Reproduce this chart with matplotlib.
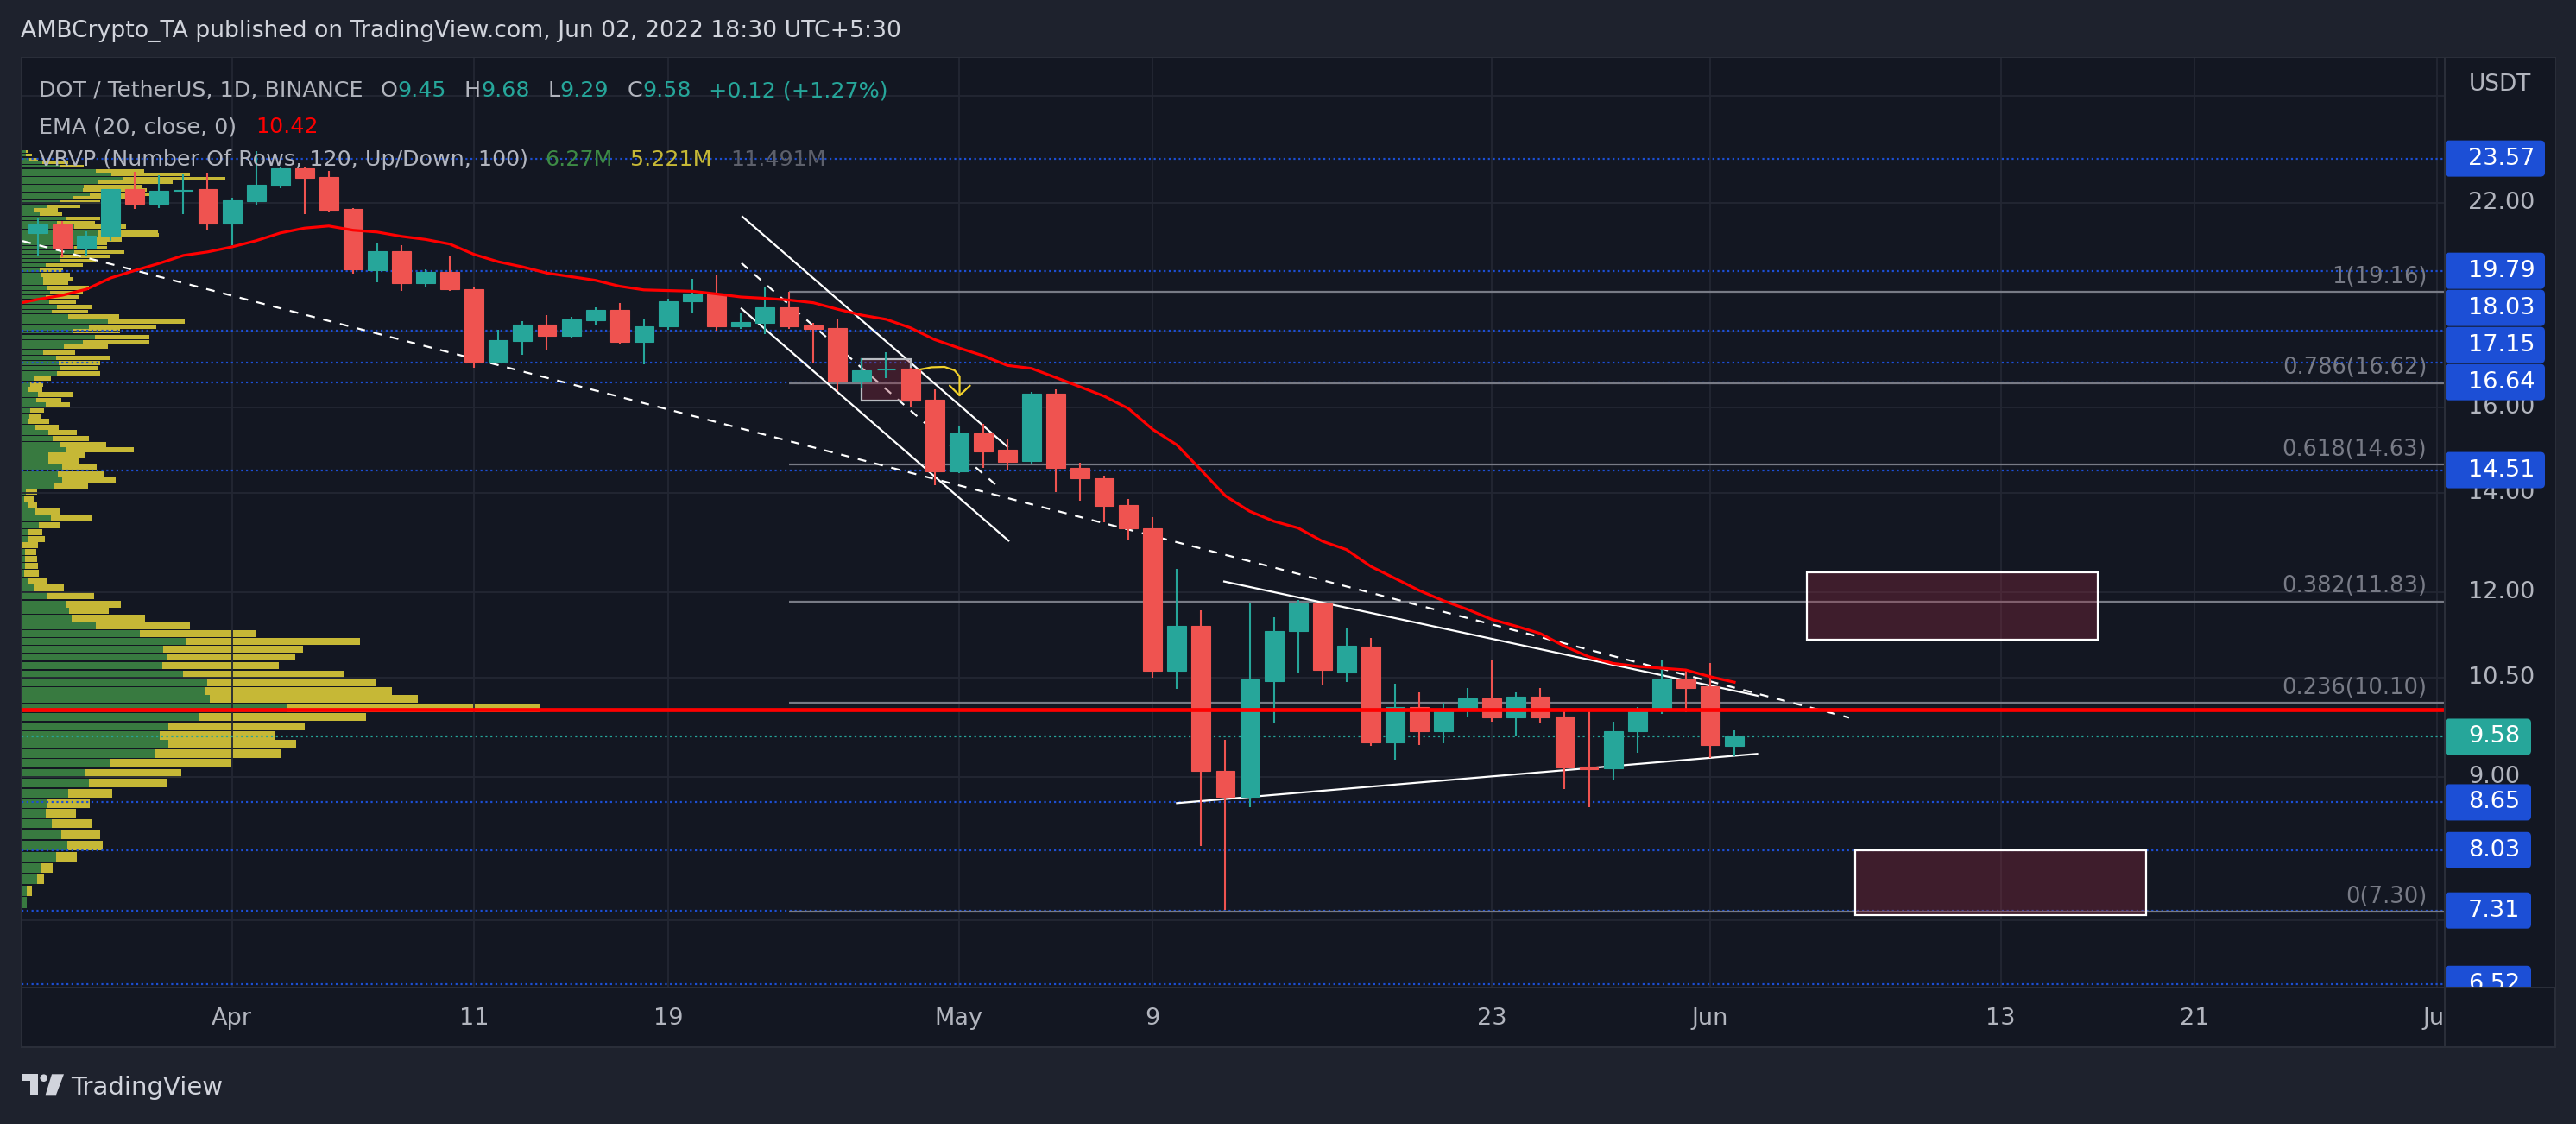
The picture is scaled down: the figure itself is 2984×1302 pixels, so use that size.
import numpy as np
import pandas as pd
import matplotlib
matplotlib.use("Agg")
import matplotlib.pyplot as plt
from matplotlib.patches import Rectangle, FancyBboxPatch, Polygon, Circle
from matplotlib.transforms import blended_transform_factory, Bbox, TransformedBbox, IdentityTransform

plt.rcParams['font.family'] = ['DejaVu Sans']

W, H = 2984, 1302
BG_OUT = "#1e222d"
BG = "#131722"
GRID = "#232733"
BORDER = "#2a2e39"
TXT = "#b2b5be"
UP = "#26a69a"
DOWN = "#ef5350"
BLUE = "#1c4fd6"
FIB = "#787b86"
VP_UP = "#387a40"
VP_DN = "#c6b836"

# DOT / USDT daily candles (Binance), first candle 24 Mar 2022
start = "2022-03-24"
opens = [20.99, 21.27, 20.52, 20.91, 22.47, 21.98, 22.41, 22.47, 21.31, 22.07,
         22.61, 23.22, 22.90, 21.80, 19.82, 20.40, 19.42, 19.76, 19.24, 17.18,
         17.75, 18.21, 17.89, 18.33, 18.62, 17.72, 18.14, 18.88, 19.11, 18.16,
         18.26, 18.70, 18.18, 18.11, 16.66, 16.96, 17.00, 16.19, 14.49, 15.37,
         14.98, 14.72, 16.35, 14.57, 14.33, 13.75, 13.26, 10.62, 11.39, 9.09,
         8.72, 10.45, 11.30, 11.79, 10.59, 11.02, 9.49, 10.04, 9.67, 10.00,
         10.17, 9.88, 10.20, 9.89, 9.14, 9.12, 9.67, 9.99, 10.48, 10.37, 9.45]
highs = [21.48, 21.39, 21.04, 22.47, 23.10, 22.96, 22.99, 23.06, 22.17, 23.85,
         23.27, 23.25, 23.11, 21.83, 20.65, 20.60, 19.83, 20.23, 19.28, 18.05,
         18.30, 18.47, 18.43, 18.70, 18.83, 18.37, 18.95, 19.55, 19.68, 18.52,
         19.28, 19.16, 18.26, 18.35, 17.28, 17.43, 17.02, 16.46, 15.54, 15.60,
         15.22, 16.38, 16.46, 14.68, 14.38, 13.87, 13.48, 12.44, 11.67, 9.54,
         11.79, 11.54, 11.86, 11.80, 11.34, 11.17, 10.41, 10.27, 10.10, 10.34,
         10.81, 10.27, 10.34, 10.00, 10.00, 9.81, 10.04, 10.80, 10.65, 10.75, 9.68]
lows = [20.25, 20.20, 20.25, 20.73, 21.80, 21.83, 21.63, 21.08, 20.60, 21.95,
        22.52, 21.63, 21.68, 19.71, 19.45, 19.17, 19.29, 19.17, 17.01, 17.15,
        17.37, 17.48, 17.81, 18.18, 17.65, 17.11, 18.05, 18.55, 18.04, 18.09,
        17.94, 18.09, 17.13, 16.41, 16.48, 16.75, 16.00, 14.18, 14.45, 14.57,
        14.53, 14.66, 14.03, 13.83, 13.37, 13.03, 10.51, 10.32, 8.08, 7.32,
        8.58, 9.78, 10.59, 10.38, 10.44, 9.44, 9.24, 9.46, 9.48, 9.89,
        9.81, 9.58, 9.79, 8.83, 8.58, 8.96, 9.35, 9.93, 9.96, 9.27, 9.29]
closes = [21.27, 20.52, 20.90, 22.47, 21.98, 22.42, 22.44, 21.31, 22.09, 22.63,
          23.21, 22.88, 21.77, 19.84, 20.40, 19.42, 19.76, 19.22, 17.18, 17.77,
          18.21, 17.89, 18.35, 18.62, 17.72, 18.16, 18.88, 19.11, 18.16, 18.28,
          18.70, 18.16, 18.09, 16.66, 16.95, 16.98, 16.18, 14.49, 15.37, 14.94,
          14.70, 16.35, 14.57, 14.32, 13.73, 13.25, 10.61, 11.39, 9.09, 8.72,
          10.47, 11.30, 11.79, 10.63, 11.04, 9.49, 10.04, 9.67, 10.00, 10.17,
          9.88, 10.20, 9.88, 9.13, 9.11, 9.67, 9.99, 10.48, 10.34, 9.46, 9.58]

# EMA(20, close) as drawn, first value 23 Mar 2022
ema_start = "2022-03-23"
ema20 = [18.78, 18.93, 19.05, 19.23, 19.57, 19.80, 20.02, 20.27, 20.38, 20.54,
         20.74, 20.99, 21.15, 21.22, 21.08, 21.02, 20.88, 20.78, 20.63, 20.30,
         20.07, 19.91, 19.72, 19.61, 19.50, 19.32, 19.21, 19.19, 19.17, 19.09,
         19.00, 18.96, 18.91, 18.83, 18.64, 18.47, 18.35, 18.11, 17.78, 17.55,
         17.34, 17.08, 17.00, 16.76, 16.52, 16.28, 15.97, 15.46, 15.09, 14.51,
         13.94, 13.61, 13.40, 13.26, 12.99, 12.82, 12.49, 12.26, 12.03, 11.84,
         11.68, 11.50, 11.38, 11.25, 11.03, 10.85, 10.74, 10.69, 10.66, 10.63,
         10.52, 10.43]

# visible range volume profile rows: price, up volume, down volume (relative)
vp_price = [23.83, 23.70, 23.54, 23.43, 23.29, 23.13, 22.99, 22.85, 22.71, 22.57,
            22.44, 22.30, 22.17, 22.03, 21.89, 21.76, 21.61, 21.47, 21.33, 21.20,
            21.05, 20.92, 20.78, 20.65, 20.51, 20.37, 20.24, 20.10, 19.97, 19.81,
            19.67, 19.54, 19.41, 19.27, 19.13, 19.00, 18.86, 18.71, 18.57, 18.43,
            18.29, 18.15, 18.01, 17.86, 17.71, 17.58, 17.42, 17.28, 17.14, 17.00,
            16.86, 16.73, 16.59, 16.46, 16.32, 16.18, 16.06, 15.92, 15.78, 15.65,
            15.51, 15.38, 15.24, 15.10, 14.98, 14.85, 14.72, 14.58, 14.43, 14.29,
            14.15, 14.02, 13.88, 13.74, 13.60, 13.46, 13.32, 13.18, 13.04, 12.91,
            12.77, 12.63, 12.50, 12.36, 12.22, 12.08, 11.93, 11.78, 11.66, 11.52,
            11.38, 11.25, 11.11, 10.98, 10.85, 10.70, 10.56, 10.43, 10.29, 10.16,
            10.02, 9.88, 9.74, 9.60, 9.47, 9.33, 9.20, 9.05, 8.91, 8.77,
            8.64, 8.50, 8.37, 8.23, 8.09, 7.95, 7.81, 7.68, 7.54, 7.40]
vp_up = [5.5, 5.5, 9.5, 24.5, 44.5, 86.5, 104.5, 117.5, 88.5, 72.5,
         71.5, 79.5, 59.5, 44.5, 30.5, 14.5, 21.5, 52.5, 41.5, 61.5,
         89.5, 89.5, 86.5, 64.5, 61.5, 61.5, 45.5, 45.5, 28.5, 21.5,
         23.5, 25.5, 25.5, 30.5, 33.5, 28.5, 32.5, 41.5, 35.5, 54.5,
         100.5, 78.5, 60.5, 85.5, 71.5, 49.5, 25.5, 40.5, 43.5, 45.5,
         41.5, 14.5, 10.5, 7.5, 19.5, 17.5, 28.5, 10.5, 9.5, 8.5,
         15.5, 31.5, 36.5, 45.5, 51.5, 31.5, 31.5, 47.5, 42.5, 47.5,
         37.5, 5.5, 3.5, 7.5, 16.5, 34.5, 20.5, 7.5, 7.5, 1.5,
         4.5, 4.5, 4.5, 3.5, 7.5, 14.5, 29.5, 51.5, 55.5, 58.5,
         86.5, 137.5, 191.5, 164.5, 169.5, 163.5, 187.5, 215.5, 212.5, 218.5,
         308.5, 205.5, 170.5, 160.5, 170.5, 155.5, 102.5, 73.5, 78.5, 54.5,
         30.5, 28.5, 35.5, 46.5, 53.5, 40.5, 22.5, 18.5, 6.5, 6.5]
vp_down = [3, 7, 10, 30, 28, 56, 91, 119, 87, 67,
           74, 89, 82, 47, 38, 28, 26, 39, 44, 60,
           69, 70, 30, 35, 38, 58, 58, 41, 43, 27,
           33, 35, 29, 48, 38, 39, 31, 40, 42, 59,
           89, 78, 54, 63, 77, 51, 37, 62, 48, 44,
           50, 20, 15, 17, 40, 29, 28, 16, 13, 24,
           28, 33, 42, 53, 79, 42, 36, 40, 53, 62,
           40, 13, 11, 11, 29, 48, 24, 17, 20, 18,
           13, 14, 15, 17, 22, 35, 55, 64, 46, 85,
           109, 135, 201, 162, 148, 135, 187, 195, 217, 241,
           292, 194, 158, 134, 148, 146, 141, 112, 91, 51,
           49, 35, 46, 45, 41, 24, 14, 8, 6, 0]

# fibonacci retracement drawn from 24 Apr
fib_start = "2022-04-24"
fib_levels = ["1", "0.786", "0.618", "0.382", "0.236", "0"]
fib_prices = [19.16, 16.62, 14.63, 11.83, 10.10, 7.30]

ray_levels = [23.57, 19.79, 18.03, 17.15, 16.64, 14.51, 8.65, 8.03, 7.31, 6.52]
last_price = 9.58
support = 10.0

# drawings: (days after start, price) endpoints
trend_dashed = ([-0.64, 74.74], [20.73, 9.87])
channel_top = ([29.07, 40.0], [21.53, 15.05])
channel_bot = ([29.03, 40.05], [18.66, 13.00])
channel_mid = ([29.03, 39.7], [20.03, 14.10])
tri_top = ([48.95, 70.99], [12.20, 10.21])
tri_bot = ([47.0, 70.98], [8.64, 9.33])
arrow_x = [36.39, 36.87, 37.41, 37.82, 38.03, 38.03]
arrow_y = [16.97, 17.03, 17.04, 16.95, 16.79, 16.30]
head_x = [37.62, 38.03, 38.46]
head_y = [16.55, 16.30, 16.55]
small_box = ([34, 36], [16.18, 17.24])
zones = [([73, 85], [11.14, 12.37]), ([75, 87], [7.26, 8.03])]

price_grid = [26, 22, 18, 16, 14, 12, 10.5, 9, 7.2]
price_ticks = [22, 16, 14, 12, 10.5, 9]
date_ticks = ["2022-04-01", "2022-04-11", "2022-04-19", "2022-05-01", "2022-05-09",
              "2022-05-23", "2022-06-01", "2022-06-13", "2022-06-21", "2022-07-01"]
date_labels = ["Apr", "11", "19", "May", "9", "23", "Jun", "13", "21", "Jul"]

t0 = pd.Timestamp(start)
def day(d):
    return (pd.Timestamp(d) - t0).days

XMIN, XMAX = -0.677, 99.32
YMIN, YMAX = 6.483, 27.57
PL, PT, PR, PB = 25, 67, 2832, 1144
AXR, DB = 2960, 1213

def rect_px(x0, y0, x1, y1):
    return [x0 / W, 1 - y1 / H, (x1 - x0) / W, (y1 - y0) / H]

fig = plt.figure(figsize=(W / 100, H / 100), dpi=100, facecolor=BG_OUT)
fig.add_artist(Rectangle((PL / W, 1 - DB / H), (AXR - PL) / W, (DB - PT) / H,
                         transform=fig.transFigure, facecolor=BG, edgecolor=BORDER,
                         lw=1.5, zorder=-5))

ax_bg = fig.add_axes(rect_px(PL, PT, PR, PB), zorder=0)
ax = fig.add_axes(rect_px(PL, PT, PR, PB), zorder=1)
ax_r = fig.add_axes(rect_px(PR, PT, AXR, PB), zorder=1)
ax.patch.set_visible(False)
for a in (ax_bg, ax, ax_r):
    a.set_yscale('log')
    a.set_ylim(YMIN, YMAX)
    a.set_xticks([])
    a.set_yticks([])
    a.set_yticks([], minor=True)
    for s in a.spines.values():
        s.set_visible(False)
ax_bg.set_facecolor(BG)
ax_r.set_facecolor(BG)
ax.set_xlim(XMIN, XMAX)
ax_r.set_xlim(0, 1)

# separators
fig.add_artist(plt.Line2D([PR / W, PR / W], [1 - DB / H, 1 - PT / H], color=BORDER, lw=1.5))
fig.add_artist(plt.Line2D([PL / W, AXR / W], [1 - PB / H, 1 - PB / H], color=BORDER, lw=1.5))

# grid
for p in price_grid:
    ax_bg.axhline(p, color=GRID, lw=1.3)
xt = [day(d) for d in date_ticks]
ax_bg.vlines(xt, 0, 1, transform=blended_transform_factory(ax.transData, ax_bg.transAxes),
             color=GRID, lw=1.3)

# volume profile
vp_price = np.array(vp_price)
vp_up = np.array(vp_up)
vp_down = np.array(vp_down)
row_h = (vp_price.max() - vp_price.min()) / (len(vp_price) - 1) * 0.88
ax_bg.barh(vp_price, vp_up, height=row_h, color=VP_UP, lw=0)
ax_bg.barh(vp_price, vp_down, left=vp_up, height=row_h, color=VP_DN, lw=0)
ax_bg.set_xlim(0, (vp_up + vp_down).max() / 0.2138)
ax_bg.set_xticks([])

# candles
dates = pd.date_range(start, periods=len(opens), freq='D')
xs = np.array((dates - t0).days)
o, h, l, c = map(np.array, (opens, highs, lows, closes))
col = np.where(c >= o, UP, DOWN)
ax.vlines(xs, l, h, colors=col, lw=1.5, zorder=5)
ax.bar(xs, np.abs(c - o), bottom=np.minimum(o, c), width=0.78, color=col,
       edgecolor=col, lw=0.8, zorder=6)

ema_x = np.array((pd.date_range(ema_start, periods=len(ema20), freq='D') - t0).days)
ax.plot(ema_x, ema20, color='#ff0000', lw=2.3, zorder=7)

# horizontal levels
for p in ray_levels:
    ax.axhline(p, color=BLUE, lw=1.6, ls=(0, (1, 1.6)), zorder=3)
ax.axhline(last_price, color=UP, lw=1.6, ls=(0, (1, 1.6)), zorder=3)
ax.axhline(support, color='#ff0000', lw=3.4, zorder=8)

fx0 = day(fib_start)
ax.hlines(fib_prices, fx0, XMAX, color=FIB, lw=1.6, zorder=3)
for lv, p in zip(fib_levels, fib_prices):
    ax.annotate(f"{lv}({p:.2f})", (98.58, p), xytext=(0, 3), textcoords='offset points',
                ha='right', va='bottom', color=FIB, fontsize=18.5, zorder=9)

# trend lines
ax.plot(*trend_dashed, color='white', lw=1.6, ls=(0, (4.5, 4.5)), zorder=4)
ax.plot(*channel_mid, color='white', lw=1.6, ls=(0, (4.5, 4.5)), zorder=4)
for tl in (channel_top, channel_bot, tri_top, tri_bot):
    ax.plot(*tl, color='white', lw=1.6, zorder=4)

# zones
bx, by = small_box
ax.add_patch(Rectangle((bx[0], by[0]), bx[1] - bx[0], by[1] - by[0],
                       facecolor=(0.56, 0.17, 0.25, 0.35), edgecolor='#b9bcc2', lw=1.6, zorder=4.5))
for zx, zy in zones:
    ax.add_patch(Rectangle((zx[0], zy[0]), zx[1] - zx[0], zy[1] - zy[0],
                           facecolor=(0.56, 0.17, 0.25, 0.35), edgecolor='white', lw=1.6, zorder=4.5))

ax.plot(arrow_x, arrow_y, color='#f3d22b', lw=1.6, zorder=9, solid_capstyle='round')
ax.plot(head_x, head_y, color='#f3d22b', lw=1.6, zorder=9, solid_capstyle='round',
        solid_joinstyle='round')

# date axis labels
clip = TransformedBbox(Bbox([[0, -1], [1, 0]]), ax.transAxes)
btr = blended_transform_factory(ax.transData, ax.transAxes)
for d, lab in zip(date_ticks, date_labels):
    t = ax.text(day(d), -(1180 - PB) / (PB - PT), lab, transform=btr, ha='center',
                va='center', color=TXT, fontsize=19.5, clip_on=True)
    t.set_clip_path(None)
    t.set_clip_box(clip)

# price axis
rtr = blended_transform_factory(ax_r.transAxes, ax_r.transData)
for p in price_ticks:
    ax_r.text(27 / 128, p, f"{p:.2f}", transform=rtr, ha='left', va='center',
              color=TXT, fontsize=19.5, zorder=2, clip_on=True)

items = [(p, BLUE) for p in ray_levels] + [(last_price, UP)]
ys = [ax_r.transData.transform((0.5, p))[1] for p, _ in items]
pos = {}
prev = -1e9
for i in np.argsort(ys):
    y = max(ys[i], prev + 43)
    pos[i] = y
    prev = y
for i, (p, colr) in enumerate(items):
    s = f"{p:.2f}"
    wpx = 116 if len(s) > 4 else 100
    ax_r.add_patch(FancyBboxPatch((PR, pos[i] - 21), wpx, 42,
                                  boxstyle="round,pad=0,rounding_size=5",
                                  transform=IdentityTransform(), fc=colr, ec='none', zorder=5))
    ax_r.text(PR + 27, pos[i], s, transform=IdentityTransform(), ha='left', va='center',
              color='white', fontsize=19.5, zorder=6, clip_on=True)

fig.text((PR + 64) / W, 1 - 98 / H, "USDT", ha='center', va='center', color=TXT, fontsize=19)

# header
fig.text(24 / W, 1 - 36 / H, "AMBCrypto_TA published on TradingView.com, Jun 02, 2022 18:30 UTC+5:30",
         ha='left', va='center', color='#d1d4dc', fontsize=19.2)

renderer = fig.canvas.get_renderer()
def put_segments(x_px, y_px, segs, size=18.3):
    x = x_px
    for s, colr, gap in segs:
        x += gap
        t = fig.text(x / W, 1 - y_px / H, s, color=colr, fontsize=size, ha='left',
                     va='center', zorder=10)
        x = t.get_window_extent(renderer=renderer).x1

put_segments(45, 105, [("DOT / TetherUS, 1D, BINANCE", TXT, 0), ("O", TXT, 20), ("9.45", UP, 0),
                       ("H", TXT, 21), ("9.68", UP, 0), ("L", TXT, 21), ("9.29", UP, 0),
                       ("C", TXT, 21), ("9.58", UP, 0), ("+0.12 (+1.27%)", UP, 21)])
put_segments(45, 147, [("EMA (20, close, 0)", TXT, 0), ("10.42", '#ff0000', 22)])
put_segments(45, 185, [("VRVP (Number Of Rows, 120, Up/Down, 100)", TXT, 0),
                       ("6.27M", '#3d8b45', 19), ("5.221M", VP_DN, 21), ("11.491M", '#5d606b', 21)])

# TradingView logo
LOGO = '#d1d4dc'
def dp(pts):
    return [(x, H - y) for x, y in pts]
fig.add_artist(Polygon(dp([(25, 1244.3), (44.3, 1244.3), (44.3, 1268.3), (35, 1268.3),
                           (35, 1251.7), (25, 1251.7)]), closed=True,
                       transform=IdentityTransform(), fc=LOGO, ec='none'))
fig.add_artist(Circle((50.7, H - 1248.7), 4.3, transform=IdentityTransform(), fc=LOGO, ec='none'))
fig.add_artist(Polygon(dp([(60, 1244.3), (74, 1244.3), (65, 1268.3), (52.7, 1268.3)]),
                       closed=True, transform=IdentityTransform(), fc=LOGO, ec='none'))
fig.text(82 / W, 1 - 1268 / H, "TradingView", ha='left', va='baseline', color=LOGO, fontsize=21)

fig.savefig("out.png", dpi=100, facecolor=BG_OUT)
